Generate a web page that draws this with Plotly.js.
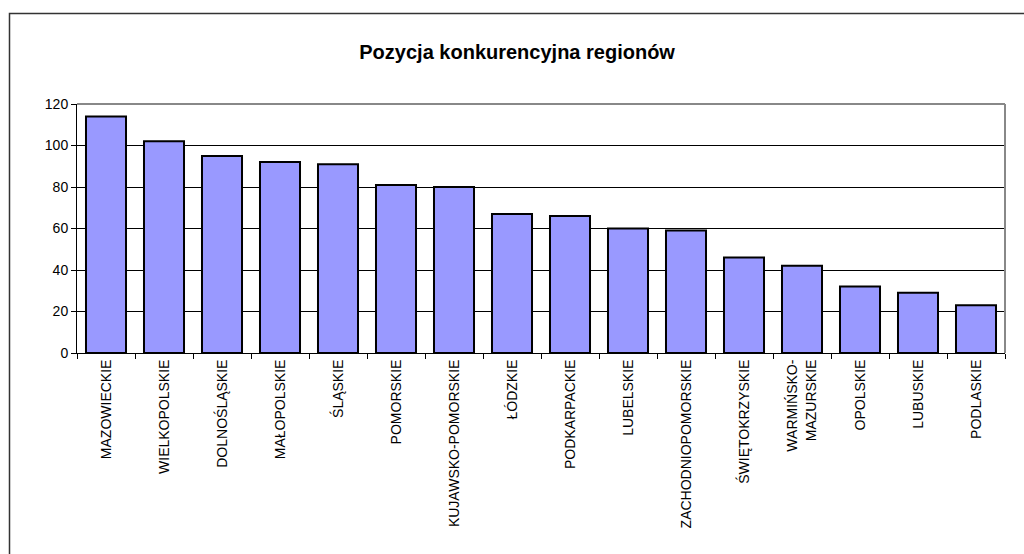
<!DOCTYPE html>
<html>
<head>
<meta charset="utf-8">
<script src="https://cdn.plot.ly/plotly-3.0.1.min.js"></script>
<style>
html,body{margin:0;padding:0;background:#fff;}
#chart{width:1024px;height:554px;}
</style>
</head>
<body>
<div id="chart"></div>
<script>
const regions = ["MAZOWIECKIE","WIELKOPOLSKIE","DOLNOŚLĄSKIE","MAŁOPOLSKIE","ŚLĄSKIE","POMORSKIE","KUJAWSKO-POMORSKIE","ŁÓDZKIE","PODKARPACKIE","LUBELSKIE","ZACHODNIOPOMORSKIE","ŚWIĘTOKRZYSKIE","WARMIŃSKO-<br>MAZURSKIE","OPOLSKIE","LUBUSKIE","PODLASKIE"];
const values = [114,102,95,92,91,81,80,67,66,60,59,46,42,32,29,23];
const yTicks = [0,20,40,60,80,100,120];
const titleText = "Pozycja konkurencyjna regionów";

const trace = {
  type: "bar",
  x: regions,
  y: values,
  marker: {color: "#9999FF", line: {color: "#000000", width: 2}},
  hoverinfo: "x+y"
};

const layout = {
  width: 1024, height: 554,
  margin: {l: 77, r: 19, t: 104, b: 201, pad: 0},
  paper_bgcolor: "#ffffff",
  plot_bgcolor: "#ffffff",
  font: {family: "Liberation Sans, Arial, sans-serif", size: 14, color: "#000"},
  title: {text: "<b>" + titleText + "</b>", font: {size: 20, family: "Liberation Sans, Arial, sans-serif", color: "#000"},
          x: 0.505, xref: "container", xanchor: "center", y: 1 - 52/554, yref: "container", yanchor: "middle"},
  bargap: 0.31,
  showlegend: false,
  xaxis: {
    type: "category",
    tickangle: -90,
    ticks: "outside", ticklen: 5, tickcolor: "#000", tickwidth: 1,
    tickson: "boundaries",
    showline: true, linecolor: "#000", linewidth: 1,
    showgrid: false, zeroline: false,
    tickfont: {size: 14},
    automargin: false
  },
  yaxis: {
    range: [0, 120],
    tickvals: yTicks,
    ticks: "outside", ticklen: 5, tickcolor: "#000",
    showline: true, linecolor: "#000", linewidth: 1,
    showgrid: true, gridcolor: "#000", gridwidth: 1,
    zeroline: false,
    tickfont: {size: 14},
    automargin: false
  },
  shapes: [
    {type: "line", xref: "paper", yref: "paper", x0: 0, x1: 1, y0: 1, y1: 1, line: {color: "#888", width: 2}},
    {type: "line", xref: "paper", yref: "paper", x0: 1, x1: 1, y0: 0, y1: 1, line: {color: "#888", width: 2}}
  ]
};

Plotly.newPlot("chart", [trace], layout, {displayModeBar: false, staticPlot: true}).then(function(){
  const svg = document.querySelector("#chart .main-svg");
  const ns = "http://www.w3.org/2000/svg";
  const l1 = document.createElementNS(ns, "path");
  l1.setAttribute("d", "M9.5,600 L9.5,13.5 L1100,13.5");
  l1.setAttribute("fill", "none");
  l1.setAttribute("stroke", "#333");
  l1.setAttribute("stroke-width", "1.5");
  svg.appendChild(l1);
});
</script>
</body>
</html>
